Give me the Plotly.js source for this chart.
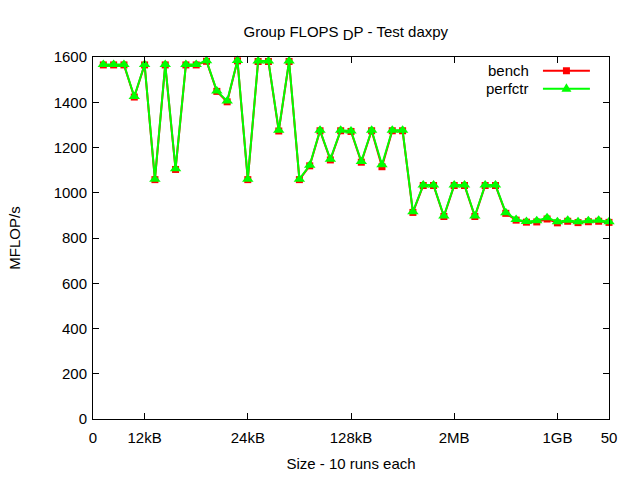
<!DOCTYPE html>
<html><head><meta charset="utf-8">
<script src="https://cdn.plot.ly/plotly-3.0.1.min.js"></script>
<style>html,body{margin:0;padding:0;background:#fff}#chart{width:640px;height:480px}</style>
</head><body><div id="chart"></div>
<script>
const runs = [1,2,3,4,5,6,7,8,9,10,11,12,13,14,15,16,17,18,19,20,21,22,23,24,25,26,27,28,29,30,31,32,33,34,35,36,37,38,39,40,41,42,43,44,45,46,47,48,49,50];
const perfctr = [1567,1567,1567,1425,1567,1060,1567,1106,1567,1567,1583,1450,1405,1585,1060,1582,1582,1276,1582,1060,1121,1276,1148,1276,1273,1138,1276,1124,1276,1276,916,1034,1034,897,1034,1034,897,1034,1034,912,882,873,876,889,872,878,872,876,878,872];
const bench   = [1565,1565,1565,1423,1565,1058,1565,1103,1565,1565,1581,1448,1402,1583,1058,1580,1580,1273,1580,1058,1119,1274,1145,1274,1271,1135,1274,1115,1274,1274,913,1032,1032,895,1032,1032,895,1032,1032,909,879,870,871,884,867,874,868,872,874,869];
const tickVals = [0,5,15,25,35,45,50];
const tickText = ['0','12kB','24kB','128kB','2MB','1GB','50'];
const yTicks = [0,200,400,600,800,1000,1200,1400,1600];

const font = {family:'Liberation Sans, Arial, sans-serif', size:15, color:'#000'};
const traces = [
  {x:runs, y:bench, name:'bench', type:'scatter', mode:'lines+markers', cliponaxis:false,
   line:{color:'#ff0000', width:2}, marker:{symbol:'square', size:7, color:'#ff0000'}},
  {x:runs, y:perfctr, name:'perfctr', type:'scatter', mode:'lines+markers', cliponaxis:false,
   line:{color:'#00ff00', width:2}, marker:{symbol:'triangle-up', size:10, color:'#00ff00'}}
];
const axisCommon = {showline:true, linecolor:'#000', linewidth:1, mirror:'allticks', ticks:'inside',
  ticklen:6, tickcolor:'#000', showgrid:false, zeroline:false, tickfont:font};
const layout = {
  width:640, height:480, paper_bgcolor:'#fff', plot_bgcolor:'#fff', font:font,
  margin:{l:93, r:31, t:57, b:61}, showlegend:false,
  title:{text:'Group FLOPS <sub><span style="font-size:15px">D</span></sub>P - Test daxpy', font:font, x:0.49, xref:'paper', xanchor:'center', y:0.945, yref:'container'},
  xaxis:{...axisCommon, range:[0,50], tickmode:'array', tickvals:tickVals, ticktext:tickText, ticklabelstandoff:5,
    title:{text:'Size - 10 runs each', font:font, standoff:13}},
  yaxis:{...axisCommon, range:[0,1600], tickmode:'array', tickvals:yTicks, ticklabelstandoff:2,
    title:{text:'MFLOP/s', font:font, standoff:29}},
  annotations:[
    {xref:'paper', yref:'paper', x:0.848, y:0.962, xanchor:'right', yanchor:'middle', text:'bench', showarrow:false, font:font},
    {xref:'paper', yref:'paper', x:0.848, y:0.912, xanchor:'right', yanchor:'middle', text:'perfctr', showarrow:false, font:font}
  ],
  shapes:[
    {type:'line', xref:'paper', yref:'paper', x0:0.872, x1:0.963, y0:0.962, y1:0.962, line:{color:'#ff0000', width:2}},
    {type:'line', xref:'paper', yref:'paper', x0:0.872, x1:0.963, y0:0.912, y1:0.912, line:{color:'#00ff00', width:2}},
    {type:'path', xref:'paper', yref:'paper', xsizemode:'pixel', ysizemode:'pixel', xanchor:0.9175, yanchor:0.962,
     path:'M-3.5,-3.5 L3.5,-3.5 L3.5,3.5 L-3.5,3.5 Z', fillcolor:'#ff0000', line:{width:0}},
    {type:'path', xref:'paper', yref:'paper', xsizemode:'pixel', ysizemode:'pixel', xanchor:0.9175, yanchor:0.912,
     path:'M-5,-3 L5,-3 L0,5.5 Z', fillcolor:'#00ff00', line:{width:0}}
  ]
};
Plotly.newPlot('chart', traces, layout, {displayModeBar:false, staticPlot:true});
</script></body></html>
